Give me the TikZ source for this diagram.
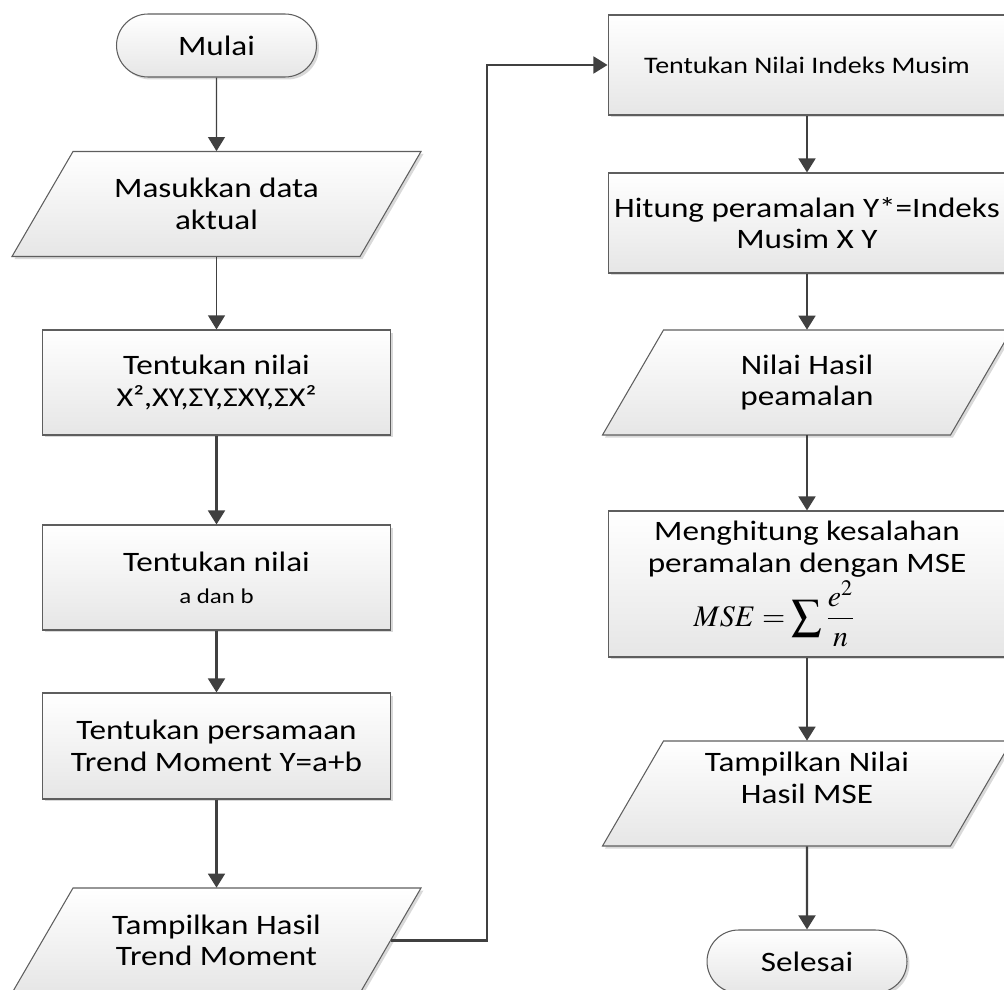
\documentclass[tikz,border=0pt]{standalone}
\usepackage{mathptmx}
\usepackage{fontspec}
\setmainfont{Carlito}[FakeStretch=1.18]
\usetikzlibrary{arrows.meta,shapes.misc,shadows}
\definecolor{bordercol}{HTML}{5E5E5E}
\definecolor{fillbot}{HTML}{E6E6E6}
\definecolor{linecol}{HTML}{404040}
\newcommand\mainfont{\fontsize{16}{18}\selectfont}
\tikzset{
  shp/.style={draw=bordercol, line width=0.6pt, top color=white, bottom color=fillbot,
    drop shadow={shadow xshift=0.05cm, shadow yshift=-0.05cm, fill=black, opacity=0.15}},
  proc/.style={shp, rectangle, inner sep=0pt, minimum width=6.96cm, align=center, font=\mainfont},
  rproc/.style={proc, minimum width=7.96cm},
  term/.style={shp, rounded rectangle, inner sep=0pt, minimum width=4cm, minimum height=1.26cm, font=\mainfont},
  iotext/.style={inner sep=0pt, minimum width=6.96cm, minimum height=2.1cm, align=center, font=\mainfont},
  flow/.style={draw=linecol, line width=1.3pt, -{Triangle[length=8pt,width=9.6pt]}},
  thinflow/.style={flow, line width=0.75pt},
}
\newcommand\iobox[4]{%
  \path[shp] ({#2-143.5},{#3-52.5}) -- ({#2+204.5},{#3-52.5}) -- ({#2+143.5},{#3+52.5}) -- ({#2-204.5},{#3+52.5}) -- cycle;
  \node[iotext] (#1) at (#2,#3) {#4};}
\begin{document}
\begin{tikzpicture}[x=0.02cm, y=-0.02cm]
\useasboundingbox (0,0) rectangle (1004,990);
% left column
\node[term] (start) at (216.5,45.5) {Mulai};
\iobox{in}{216.5}{204}{Masukkan data\\aktual}
\node[proc, minimum height=2.1cm] (b1) at (216.5,382.5) {Tentukan nilai\\{\fontsize{15.5}{18}\selectfont X²,XY,ΣY,ΣXY,ΣX²}};
\node[proc, minimum height=2.1cm] (b2) at (216.5,577.5) {Tentukan nilai\\{\fontsize{12}{14}\selectfont a dan b}};
\node[proc, minimum height=2.12cm] (b3) at (216.5,746) {Tentukan persamaan\\Trend Moment Y=a+b};
\iobox{out1}{216.5}{940.5}{Tampilkan Hasil\\Trend Moment}
% right column
\node[rproc, minimum height=2cm, font=\fontsize{13.5}{16}\selectfont] (r1) at (807,65) {Tentukan Nilai Indeks Musim};
\node[rproc, minimum height=2cm] (r2) at (807,223) {Hitung peramalan Y*=Indeks\\Musim X Y};
\iobox{out2}{807}{382.5}{Nilai Hasil\\peamalan}
\node[rproc, minimum height=2.92cm] (r3) at (807,584) {Menghitung kesalahan\\peramalan dengan MSE\\[1pt]{\fontsize{17}{19}\selectfont$\displaystyle MSE=\sum\frac{e^2}{n}$}\hspace*{1.3cm}};
\iobox{out3}{807}{793.5}{Tampilkan Nilai\\Hasil MSE\\\mbox{}}
\node[term] (end) at (807,961.5) {Selesai};
% connectors
\draw[thinflow] (start) -- (in);
\draw[thinflow] (in) -- (b1);
\draw[flow] (b1) -- (b2);
\draw[flow] (b2) -- (b3);
\draw[flow] (b3) -- (out1);
\coordinate (bend) at (487,940.5);
\draw[flow] (out1.east) -- (bend) |- (r1.west);
\draw[flow] (r1) -- (r2);
\draw[flow] (r2) -- (out2);
\draw[flow] (out2) -- (r3);
\draw[flow] (r3) -- (out3);
\draw[flow] (out3) -- (end);
\end{tikzpicture}
\end{document}
